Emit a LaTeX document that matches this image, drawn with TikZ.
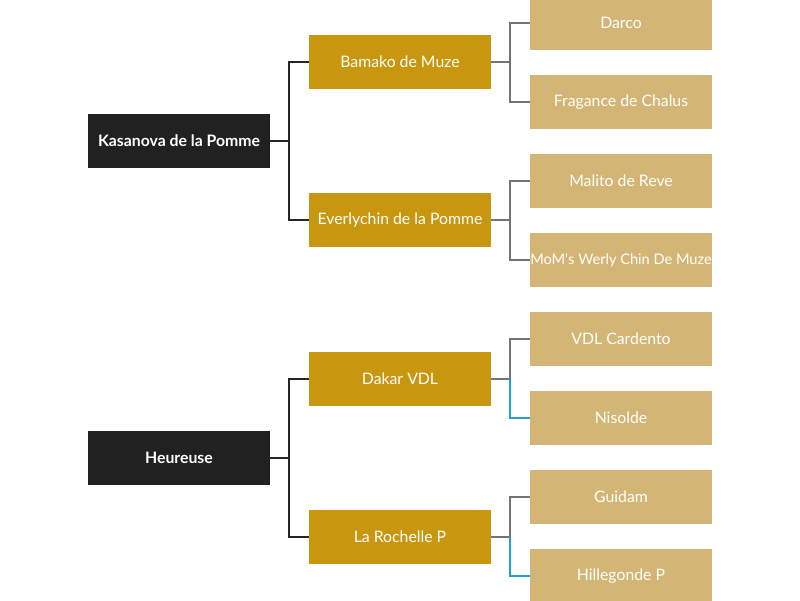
\documentclass[tikz,border=0pt]{standalone}
\usepackage{fontspec}
\setmainfont{Lato}
\begin{document}
\begin{tikzpicture}[x=1pt,y=-1pt,
  base/.style={rectangle,inner sep=0pt,minimum width=182pt,minimum height=54pt,text=white,font=\fontsize{15.8}{19}\selectfont},
  rootbox/.style={base,fill=black!87,font=\fontsize{15.8}{19}\selectfont\bfseries},
  midbox/.style={base,fill=mid},
  leafbox/.style={base,fill=leaf},
  conA/.style={draw=black!85,line width=1.5pt},
  conB/.style={draw=gray!90!black,line width=1.5pt},
  conC/.style={draw=blueline,line width=1.5pt}]
\definecolor{mid}{HTML}{C9970F}
\definecolor{leaf}{HTML}{D3B675}
\definecolor{blueline}{HTML}{1E9FDB}
\useasboundingbox (0,0) rectangle (800,600);
\node[rootbox] (r1) at (179,141) {Kasanova de la Pomme};
\node[rootbox] (r2) at (179,458) {Heureuse};
\node[midbox] (m1) at (400,62) {Bamako de Muze};
\node[midbox] (m2) at (400,220) {Everlychin de la Pomme};
\node[midbox] (m3) at (400,379) {Dakar VDL};
\node[midbox] (m4) at (400,537) {La Rochelle P};
\node[leafbox] (l1) at (621,23) {Darco};
\node[leafbox] (l2) at (621,102) {Fragance de Chalus};
\node[leafbox] (l3) at (621,181) {Malito de Reve};
\node[leafbox,font=\fontsize{14.6}{18}\selectfont] (l4) at (621,260) {MoM\textquotesingle s Werly Chin De Muze};
\node[leafbox] (l5) at (621,339) {VDL Cardento};
\node[leafbox] (l6) at (621,418) {Nisolde};
\node[leafbox] (l7) at (621,497) {Guidam};
\node[leafbox] (l8) at (621,576) {Hillegonde P};
% root connectors
\draw[conA] (r1.east) -- ++(19,0) coordinate (j1) |- (m1.west);
\draw[conA] (j1) |- (m2.west);
\draw[conA] (r2.east) -- ++(19,0) coordinate (j2) |- (m3.west);
\draw[conA] (j2) |- (m4.west);
% mid connectors
\draw[conB] (m1.east) -- ++(19,0) coordinate (k1) |- (l1.west);
\draw[conB] (k1) |- (l2.west);
\draw[conB] (m2.east) -- ++(19,0) coordinate (k2) |- (l3.west);
\draw[conB] (k2) |- (l4.west);
\draw[conB] (m3.east) -- ++(19,0) coordinate (k3) |- (l5.west);
\draw[conC] (k3) |- (l6.west);
\draw[conB] (m4.east) -- ++(19,0) coordinate (k4) |- (l7.west);
\draw[conC] (k4) |- (l8.west);
\end{tikzpicture}
\end{document}
